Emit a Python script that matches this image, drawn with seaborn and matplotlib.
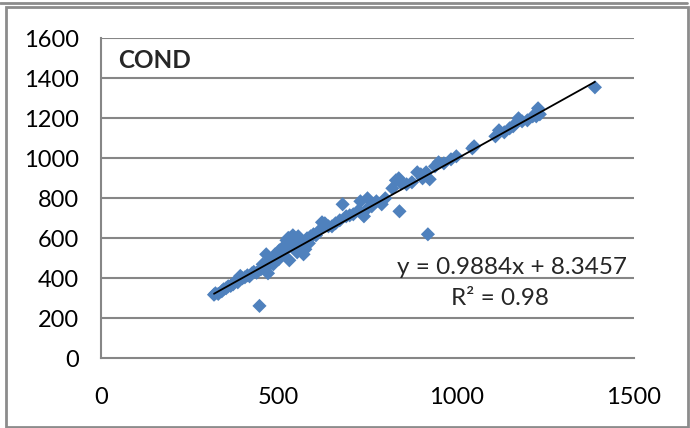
import numpy as np
import pandas as pd
import matplotlib
matplotlib.use("Agg")
import matplotlib.pyplot as plt
import seaborn as sns
from matplotlib.patches import Rectangle
from matplotlib.lines import Line2D

x_vals = [318, 322, 330, 340, 345, 352, 358, 365, 372, 378, 385, 392, 398, 405, 412,
          418, 425, 430, 438, 446, 450, 455, 460, 465, 468, 470, 472, 478, 482, 485,
          490, 495, 500, 502, 508, 512, 515, 520, 522, 527, 530, 532, 536, 540, 545,
          548, 552, 555, 560, 565, 570, 575, 580, 585, 590, 598, 605, 615, 622, 630,
          640, 650, 660, 672, 680, 690, 700, 710, 725, 730, 740, 745, 750, 762, 775,
          790, 800, 820, 830, 838, 840, 845, 860, 875, 890, 900, 905, 915, 920, 925,
          940, 950, 965, 985, 1000, 1045, 1050, 1110, 1120, 1135, 1150, 1160, 1170,
          1175, 1185, 1200, 1215, 1225, 1230, 1235, 1390]
y_vals = [318, 325, 322, 335, 345, 350, 360, 362, 370, 385, 380, 412, 400, 405, 415,
          410, 425, 432, 428, 262, 445, 470, 455, 520, 480, 425, 465, 490, 500, 470,
          520, 510, 495, 540, 530, 520, 560, 545, 590, 602, 490, 600, 560, 615, 600,
          580, 530, 610, 590, 560, 520, 545, 600, 575, 610, 620, 615, 640, 680, 675,
          660, 660, 675, 690, 770, 710, 715, 720, 740, 785, 710, 740, 800, 760, 785,
          770, 800, 850, 890, 900, 735, 875, 870, 880, 930, 920, 900, 930, 620, 895,
          960, 980, 975, 995, 1010, 1050, 1060, 1110, 1140, 1130, 1150, 1160, 1180,
          1200, 1185, 1190, 1210, 1210, 1250, 1220, 1355]

slope = 0.9884
intercept = 8.3457
r2 = 0.98

x_ticks = [0, 500, 1000, 1500]
y_ticks = [0, 200, 400, 600, 800, 1000, 1200, 1400, 1600]

df = pd.DataFrame({"x": x_vals, "y": y_vals})
xl = np.array([min(x_vals), max(x_vals)])
fit = pd.DataFrame({"x": xl, "y": slope * xl + intercept})

sns.set_theme(style="white")
plt.rcParams["font.family"] = ["Lato", "DejaVu Sans"]

W, H = 690, 428
fig = plt.figure(figsize=(W / 100, H / 100), dpi=100)
ax = fig.add_axes([101 / W, 1 - 358.3 / H, (634 - 101) / W, (358.3 - 38.3) / H])

grid_c = "#868686"
blue = "#4F81BD"

ax.set_xlim(0, 1500)
ax.set_ylim(0, 1600)
ax.set_yticks(y_ticks)
ax.set_xticks(x_ticks)
for yv in y_ticks[1:]:
    ax.axhline(yv, color=grid_c, lw=1.5, zorder=0)

sns.scatterplot(data=df, x="x", y="y", marker="D", s=52, color=blue,
                edgecolor="none", linewidth=0, ax=ax, zorder=3)
sns.lineplot(data=fit, x="x", y="y", color="black", lw=1.3, ax=ax, zorder=4)

for side in ["top", "right"]:
    ax.spines[side].set_visible(False)
for side in ["left", "bottom"]:
    ax.spines[side].set_color(grid_c)
    ax.spines[side].set_linewidth(1.5)

ax.tick_params(axis="both", which="both", length=5, width=1.5, color=grid_c,
               direction="out", labelsize=17, labelcolor="black")
ax.tick_params(axis="y", pad=11)
ax.tick_params(axis="x", pad=16)
ax.set_xlabel("")
ax.set_ylabel("")

ax.text(48, 1491, "COND", fontsize=17.5, fontweight="bold", ha="left", va="center")
ax.text(1157, 456, f"y = {slope}x + {intercept}", fontsize=17.5, ha="center", va="center")
ax.text(1123, 301, f"R² = {r2}", fontsize=17.5, ha="center", va="center")

# chart border
fig.patches.append(Rectangle((6 / W, 1 - 427 / H), (688 - 6) / W, (427 - 7) / H,
                             transform=fig.transFigure, fill=False,
                             edgecolor="#8c8c8c", lw=2))
fig.lines.append(Line2D([0, 687 / W], [1 - 3.3 / H, 1 - 3.3 / H],
                        transform=fig.transFigure, color="#8c8c8c", lw=2))

fig.savefig("out.png", dpi=100)
